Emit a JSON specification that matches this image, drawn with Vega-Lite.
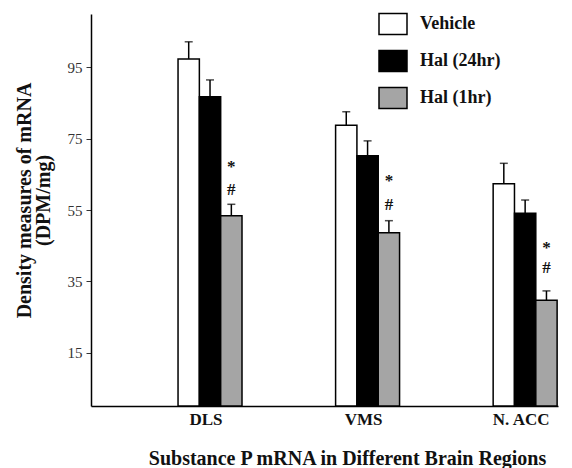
{
  "$schema": "https://vega.github.io/schema/vega-lite/v6.json",
  "width": 467,
  "height": 392,
  "autosize": {"type": "none"},
  "padding": {"left": 91, "top": 14, "right": 14, "bottom": 62},
  "background": "white",
  "datasets": {
    "bars": [
      {"region": "DLS", "group": "Vehicle", "value": 97.4, "upper": 102.2},
      {"region": "DLS", "group": "Hal (24hr)", "value": 86.8, "upper": 91.5},
      {"region": "DLS", "group": "Hal (1hr)", "value": 53.4, "upper": 56.6},
      {"region": "VMS", "group": "Vehicle", "value": 78.8, "upper": 82.6},
      {"region": "VMS", "group": "Hal (24hr)", "value": 70.2, "upper": 74.4},
      {"region": "VMS", "group": "Hal (1hr)", "value": 48.6, "upper": 52.0},
      {"region": "N. ACC", "group": "Vehicle", "value": 62.4, "upper": 68.1},
      {"region": "N. ACC", "group": "Hal (24hr)", "value": 54.1, "upper": 57.8},
      {"region": "N. ACC", "group": "Hal (1hr)", "value": 29.7, "upper": 32.3}
    ],
    "marks": [
      {"region": "DLS", "group": "Hal (1hr)", "label": "*", "pos": 65.6},
      {"region": "DLS", "group": "Hal (1hr)", "label": "#", "pos": 59.3},
      {"region": "VMS", "group": "Hal (1hr)", "label": "*", "pos": 61.7},
      {"region": "VMS", "group": "Hal (1hr)", "label": "#", "pos": 54.9},
      {"region": "N. ACC", "group": "Hal (1hr)", "label": "*", "pos": 42.9},
      {"region": "N. ACC", "group": "Hal (1hr)", "label": "#", "pos": 37.2}
    ]
  },
  "encoding": {
    "x": {
      "field": "region",
      "type": "nominal",
      "sort": ["DLS", "VMS", "N. ACC"],
      "scale": {"paddingInner": 0.594, "paddingOuter": 0.279, "align": 0.99},
      "axis": {
        "title": "Substance P mRNA in Different Brain Regions",
        "titleFont": "Liberation Serif",
        "titleFontSize": 20,
        "titleFontWeight": "bold",
        "titleColor": "#111",
        "titleX": 256,
        "titleY": 58,
        "titleAlign": "center",
        "titleBaseline": "alphabetic",
        "labelAngle": 0,
        "labelFont": "Liberation Serif",
        "labelFontSize": 17,
        "labelFontWeight": "bold",
        "labelColor": "#111",
        "labelPadding": 5,
        "labelOffset": -4,
        "ticks": false,
        "domainColor": "black",
        "domainWidth": 1.5
      }
    },
    "xOffset": {
      "field": "group",
      "type": "nominal",
      "sort": ["Vehicle", "Hal (24hr)", "Hal (1hr)"],
      "scale": {"paddingInner": 0, "paddingOuter": 0}
    }
  },
  "layer": [
    {
      "data": {"name": "bars"},
      "mark": {"type": "bar", "stroke": "black", "strokeWidth": 1.5},
      "encoding": {
        "y": {
          "field": "value",
          "type": "quantitative",
          "scale": {"domain": [0, 110], "nice": false},
          "axis": {
            "title": ["Density measures of mRNA", "(DPM/mg)"],
            "titleFont": "Liberation Serif",
            "titleFontSize": 20,
            "titleFontWeight": "bold",
            "titleColor": "#111",
            "titleLineHeight": 19,
            "titleX": -57,
            "titleY": 186,
            "titleAngle": -90,
            "titleAlign": "center",
            "titleBaseline": "bottom",
            "values": [15, 35, 55, 75, 95],
            "labelFont": "Liberation Serif",
            "labelFontSize": 15,
            "labelColor": "#333",
            "labelPadding": 4,
            "tickSize": 5,
            "tickColor": "#333",
            "grid": false,
            "domainColor": "black",
            "domainWidth": 1.5
          }
        },
        "fill": {
          "field": "group",
          "type": "nominal",
          "sort": ["Vehicle", "Hal (24hr)", "Hal (1hr)"],
          "scale": {
            "domain": ["Vehicle", "Hal (24hr)", "Hal (1hr)"],
            "range": ["white", "black", "#a5a5a5"]
          },
          "legend": {
            "title": null,
            "orient": "none",
            "legendX": 287,
            "legendY": -5,
            "padding": 0,
            "symbolType": "M-1,-0.75H1V0.75H-1Z",
            "symbolSize": 784,
            "symbolStrokeColor": "black",
            "symbolStrokeWidth": 1.5,
            "symbolOpacity": 1,
            "labelFont": "Liberation Serif",
            "labelFontSize": 18,
            "labelFontWeight": "bold",
            "labelColor": "#111",
            "labelOffset": 12,
            "rowPadding": 8
          }
        }
      }
    },
    {
      "data": {"name": "bars"},
      "mark": {"type": "rule", "color": "black", "strokeWidth": 1.5},
      "encoding": {
        "y": {"field": "value", "type": "quantitative"},
        "y2": {"field": "upper"}
      }
    },
    {
      "data": {"name": "bars"},
      "mark": {"type": "tick", "color": "black", "thickness": 1.5, "size": 8},
      "encoding": {
        "y": {"field": "upper", "type": "quantitative"}
      }
    },
    {
      "data": {"name": "marks"},
      "mark": {"type": "text", "font": "Liberation Serif", "fontSize": 17, "fontWeight": "bold", "color": "#111", "baseline": "alphabetic", "align": "center"},
      "encoding": {
        "y": {"field": "pos", "type": "quantitative"},
        "text": {"field": "label"}
      }
    }
  ],
  "config": {"view": {"stroke": null}}
}
